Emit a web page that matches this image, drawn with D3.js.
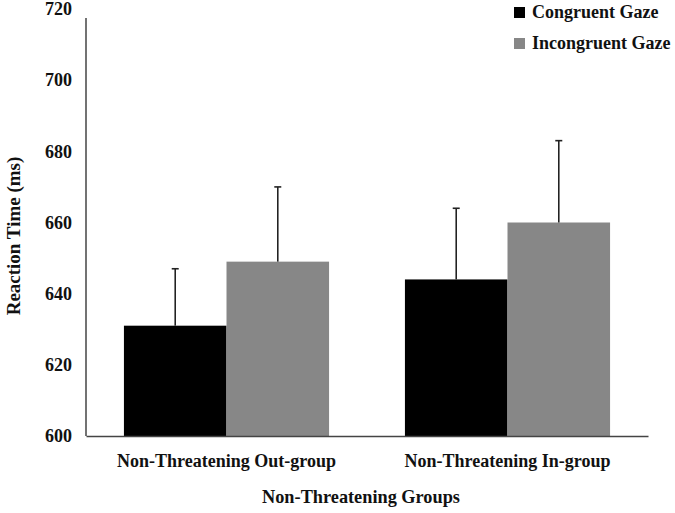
<!DOCTYPE html>
<html>
<head>
<meta charset="utf-8">
<script src="https://cdn.jsdelivr.net/npm/d3@7"></script>
<style>
  body { margin: 0; background: #fff; }
  text { font-family: "Liberation Serif", "Times New Roman", serif; font-weight: bold; }
</style>
</head>
<body>
<svg id="main-chart"></svg>
<script>
const groups = ["Non-Threatening Out-group", "Non-Threatening In-group"];
const seriesNames = ["Congruent Gaze", "Incongruent Gaze"];
const congruent = [631, 644];
const incongruent = [649, 660];
const congruentErrTop = [647, 664];
const incongruentErrTop = [670, 683];
const yTicks = [600, 620, 640, 660, 680, 700, 720];

const colors = ["#000000", "#878787"];

const width = 675;
const height = 513;
const margin = ({top: 9, right: 27, bottom: 77, left: 86});

const barData = [];
groups.forEach((g, i) => {
  barData.push({group: g, series: seriesNames[0], value: congruent[i], err: congruentErrTop[i]});
  barData.push({group: g, series: seriesNames[1], value: incongruent[i], err: incongruentErrTop[i]});
});

const y = d3.scaleLinear()
  .domain([600, 720])
  .range([height - margin.bottom, margin.top]);

const x0 = d3.scaleBand()
  .domain(groups)
  .range([margin.left, width - margin.right])
  .paddingInner(0.27)
  .paddingOuter(0.135);

const x1 = d3.scaleBand()
  .domain(seriesNames)
  .range([0, x0.bandwidth()]);

const color = d3.scaleOrdinal().domain(seriesNames).range(colors);

const svg = d3.select("#main-chart")
  .attr("width", width)
  .attr("height", height);

// bars
svg.append("g")
  .selectAll("rect")
  .data(barData)
  .join("rect")
  .attr("x", d => x0(d.group) + x1(d.series))
  .attr("y", d => y(d.value))
  .attr("width", x1.bandwidth())
  .attr("height", d => y(600) - y(d.value))
  .attr("fill", d => color(d.series));

// error bars (upper only)
const errG = svg.append("g")
  .attr("stroke", "#222")
  .attr("stroke-width", 1.6);

errG.selectAll("line.stem")
  .data(barData)
  .join("line")
  .attr("class", "stem")
  .attr("x1", d => x0(d.group) + x1(d.series) + x1.bandwidth() / 2)
  .attr("x2", d => x0(d.group) + x1(d.series) + x1.bandwidth() / 2)
  .attr("y1", d => y(d.value))
  .attr("y2", d => y(d.err));

errG.selectAll("line.cap")
  .data(barData)
  .join("line")
  .attr("class", "cap")
  .attr("x1", d => x0(d.group) + x1(d.series) + x1.bandwidth() / 2 - 3.5)
  .attr("x2", d => x0(d.group) + x1(d.series) + x1.bandwidth() / 2 + 3.5)
  .attr("y1", d => y(d.err))
  .attr("y2", d => y(d.err));

// y axis
const yAxis = g => g
  .attr("transform", `translate(${margin.left},0)`)
  .call(d3.axisLeft(y).tickValues(yTicks).tickSize(0).tickPadding(14).tickFormat(d3.format("d")))
  .call(g => g.select(".domain").remove())
  .call(g => g.selectAll(".tick text")
    .attr("font-size", 18)
    .attr("fill", "#111"));

svg.append("g").call(yAxis);

svg.append("line")
  .attr("x1", margin.left).attr("x2", margin.left)
  .attr("y1", y(717.5)).attr("y2", y(600))
  .attr("stroke", "#444").attr("stroke-width", 1.5);

// x axis
const xAxis = g => g
  .attr("transform", `translate(0,${y(600)})`)
  .call(d3.axisBottom(x0).tickSize(0).tickPadding(18))
  .call(g => g.select(".domain").attr("stroke", "#444").attr("stroke-width", 1.5))
  .call(g => g.selectAll(".tick text")
    .attr("font-size", 18)
    .attr("fill", "#111"));

svg.append("g").call(xAxis);

// axis titles
svg.append("text")
  .attr("x", 361)
  .attr("y", 503)
  .attr("text-anchor", "middle")
  .attr("font-size", 18.3)
  .attr("fill", "#111")
  .text("Non-Threatening Groups");

svg.append("text")
  .attr("transform", `translate(20,236) rotate(-90)`)
  .attr("text-anchor", "middle")
  .attr("font-size", 19)
  .attr("fill", "#111")
  .text("Reaction Time (ms)");

// legend
const legend = svg.append("g")
  .selectAll("g")
  .data(seriesNames)
  .join("g")
  .attr("transform", (d, i) => `translate(514,${7 + i * 31})`);

legend.append("rect")
  .attr("width", 11)
  .attr("height", 11)
  .attr("fill", d => color(d));

legend.append("text")
  .attr("x", 18)
  .attr("y", 10.5)
  .attr("font-size", 18)
  .attr("fill", "#111")
  .text(d => d);
</script>
</body>
</html>
